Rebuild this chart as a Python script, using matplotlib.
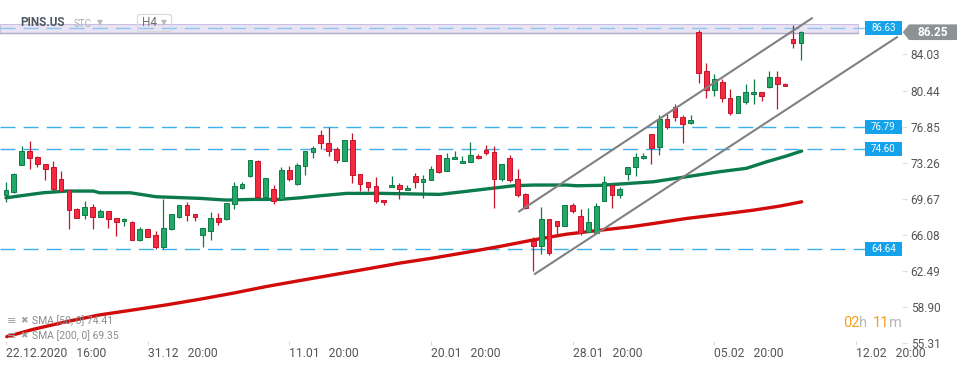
import matplotlib
matplotlib.use("Agg")
import matplotlib.pyplot as plt
import matplotlib.transforms as mtransforms
from matplotlib.patches import Rectangle, Polygon, FancyBboxPatch

W, H = 970, 368

# H4 candles, PINS.US
opens = [70.05, 70.35, 73.00, 74.39, 73.79, 73.09, 72.79, 71.59, 70.49, 68.59,
         67.99, 68.79, 67.85, 68.39, 67.69, 67.39, 67.29, 65.59, 66.59, 66.09,
         64.85, 66.59, 67.85, 68.99, 68.09, 66.00, 66.49, 67.69, 67.59, 69.09,
         70.69, 71.89, 73.39, 69.79, 70.59, 69.59, 72.49, 71.09, 72.89, 74.29,
         75.99, 75.19, 74.59, 73.39, 75.49, 72.09, 71.29, 70.89, 69.49, 70.79,
         70.99, 70.49, 71.89, 71.29, 71.49, 73.99, 72.39, 73.59, 73.19, 73.29,
         73.89, 74.49, 74.29, 71.59, 73.69, 71.59, 70.09, 65.45, 64.95, 67.59,
         67.39, 66.89, 68.99, 67.89, 66.39, 66.29, 69.39, 70.99, 69.99, 72.09,
         72.79, 73.69, 76.09, 74.79, 77.63, 78.79, 77.79, 77.16, 86.29, 82.36,
         80.53, 81.33, 79.73, 78.19, 79.26, 80.13, 80.33, 80.79, 81.83, 81.13,
         85.53, 85.19]
highs = [71.32, 72.18, 74.92, 75.42, 73.92, 73.09, 73.39, 72.42, 70.49, 68.69,
         69.42, 69.12, 68.59, 68.39, 67.69, 67.72, 67.39, 66.79, 66.59, 66.49,
         69.65, 68.10, 69.05, 69.32, 68.09, 66.69, 68.29, 68.19, 69.25, 71.29,
         71.29, 73.55, 73.49, 71.69, 70.99, 72.79, 72.89, 73.19, 74.45, 74.89,
         76.49, 76.85, 74.79, 75.49, 76.19, 72.09, 71.29, 71.79, 69.49, 71.95,
         71.19, 70.99, 72.19, 71.99, 72.89, 73.99, 74.19, 74.39, 73.89, 75.29,
         74.09, 74.99, 74.89, 73.09, 73.99, 72.59, 70.19, 65.85, 68.79, 67.59,
         67.39, 68.99, 69.19, 68.59, 68.69, 69.19, 71.89, 70.99, 70.79, 72.79,
         74.19, 74.19, 76.09, 77.96, 78.13, 79.13, 77.96, 77.96, 86.46, 83.19,
         82.06, 81.59, 80.63, 79.93, 81.06, 81.63, 80.33, 82.43, 82.36, 81.19,
         86.96, 86.39]
lows = [69.35, 70.25, 73.00, 72.65, 72.85, 71.52, 70.39, 70.42, 66.65, 67.69,
        67.59, 66.65, 67.79, 66.75, 65.95, 66.92, 65.59, 65.45, 65.89, 64.60,
        64.60, 66.50, 67.75, 67.45, 67.45, 64.85, 65.59, 66.99, 67.55, 68.59,
        70.59, 71.79, 69.69, 69.69, 69.09, 69.55, 71.39, 71.05, 71.99, 73.69,
        74.59, 73.95, 73.19, 73.39, 71.25, 70.45, 70.45, 69.19, 68.99, 70.79,
        69.59, 70.49, 70.69, 69.69, 71.49, 72.19, 72.39, 73.59, 73.19, 73.29,
        73.59, 73.99, 68.69, 71.39, 71.29, 69.79, 68.59, 62.41, 64.18, 64.05,
        65.99, 66.89, 68.19, 66.09, 66.39, 66.29, 69.39, 68.69, 69.69, 71.50,
        71.89, 73.59, 73.09, 73.99, 76.63, 77.39, 75.19, 77.10, 81.19, 79.69,
        79.86, 79.26, 77.96, 78.19, 79.13, 79.06, 79.39, 80.73, 78.63, 80.86,
        84.63, 83.53]
closes = [70.52, 72.08, 74.39, 73.69, 73.09, 72.65, 70.59, 70.42, 68.49, 67.69,
          68.79, 67.85, 68.39, 67.59, 67.35, 67.62, 65.59, 66.59, 65.89, 64.85,
          66.69, 68.09, 68.99, 67.99, 67.85, 66.69, 67.69, 67.29, 69.19, 70.89,
          71.09, 73.49, 69.79, 71.69, 69.39, 72.49, 71.59, 72.99, 74.39, 74.69,
          75.19, 74.45, 73.49, 75.49, 71.99, 71.09, 70.79, 69.39, 69.29, 70.99,
          70.59, 70.69, 71.29, 71.59, 72.59, 72.29, 73.69, 73.79, 73.39, 73.99,
          73.69, 74.19, 71.59, 73.09, 71.49, 69.99, 68.69, 64.95, 67.59, 64.25,
          66.89, 68.99, 68.39, 66.29, 67.29, 68.89, 71.29, 69.99, 70.59, 72.79,
          73.79, 73.89, 74.69, 77.63, 76.85, 77.79, 77.12, 77.46, 82.19, 80.53,
          81.59, 79.73, 78.19, 79.93, 80.33, 80.33, 79.93, 81.79, 81.13, 80.93,
          85.19, 86.25]

# moving averages (candle index, value)
sma50_x = [0, 4.7, 7.7, 11.1, 11.9, 15.8, 19.1, 21.3, 24.7, 28.0, 31.4, 34.8,
           37.4, 39.9, 43.3, 47.9, 52.6, 55.1, 57.7, 60.6, 64.5, 67.0, 71.2,
           72.5, 75.5, 79.3, 82.3, 86.5, 90.7, 94.1, 96.7, 99.2, 101.1]
sma50_y = [69.75, 70.25, 70.42, 70.42, 70.25, 70.25, 69.85, 69.79, 69.69,
           69.52, 69.59, 69.59, 69.75, 69.95, 70.19, 70.19, 70.12, 70.09,
           70.32, 70.59, 70.95, 71.02, 71.02, 70.95, 70.99, 71.19, 71.35,
           71.85, 72.35, 72.69, 73.35, 73.92, 74.41]
sma200_x = [0.1, 3.5, 7.7, 11.9, 16.2, 20.4, 24.7, 28.9, 33.1, 37.4, 41.6,
            45.8, 50.1, 54.3, 58.5, 62.8, 67.0, 71.2, 75.5, 79.3, 82.3, 86.5,
            90.7, 95.0, 98.3, 101.1]
sma200_y = [55.91, 56.65, 57.41, 58.08, 58.58, 59.08, 59.65, 60.25, 60.91,
            61.51, 62.08, 62.65, 63.25, 63.75, 64.31, 64.91, 65.55, 66.12,
            66.52, 66.85, 67.19, 67.69, 68.09, 68.52, 68.92, 69.35]

chan_upper_x = [65.2, 102.4]
chan_upper_y = [68.39, 87.64]
chan_lower_x = [67.2, 113.2]
chan_lower_y = [62.16, 85.75]

levels = [86.63, 76.79, 74.60, 64.64]
band = (86.14, 87.07)
last_price = 86.25

ytick_vals = [84.03, 80.44, 76.85, 73.26, 69.67, 66.08, 62.49, 58.90, 55.31]
xtick_pos = [0, 18, 36, 54, 72, 90, 108]
xtick_labels = ['22.12.2020   16:00', '31.12   20:00', '11.01   20:00',
                '20.01   20:00', '28.01   20:00', '05.02   20:00',
                '12.02   20:00']

plt.rcParams['font.family'] = ['Roboto', 'DejaVu Sans']

fig = plt.figure(figsize=(W / 100, H / 100), dpi=100)
ax = fig.add_axes([0, 1 - 344.6 / H, 902 / W, 344.6 / H])
ax.set_xlim(-0.76, 113.85)
ax.set_ylim(55.12, 89.46)
for s in ax.spines.values():
    s.set_visible(False)

x_end = 109.15  # where the level lines meet their labels

# resistance band + level lines
ax.add_patch(Rectangle((-0.76, band[0]), 109.0, band[1] - band[0],
                       facecolor='#e9e3f3', edgecolor='#c9bfe2', lw=0.8, zorder=1))
ax.plot([-0.76, 108.24], [band[0], band[0]], color='#b4acc8', lw=1.0, zorder=1)
for lv in levels:
    col = '#8ac6ee' if lv == levels[0] else '#3cb1ed'
    ax.plot([-0.76, x_end], [lv, lv], color=col, lw=1.0,
            linestyle=(0, (10.8, 5.8)), zorder=2)

# moving averages
ax.plot(sma200_x, sma200_y, color='#d10a0a', lw=2.4, solid_capstyle='round', zorder=3)
ax.plot(sma50_x, sma50_y, color='#0b7b4c', lw=2.4, solid_capstyle='round', zorder=3)

# candles
idx = list(range(len(opens)))
ups = [c >= o for o, c in zip(opens, closes)]
faces = ['#22a867' if u else '#f52a3f' for u in ups]
edges = ['#0f7a48' if u else '#c4142b' for u in ups]
bottoms = [min(o, c) for o, c in zip(opens, closes)]
heights = [max(abs(c - o), 0.08) for o, c in zip(opens, closes)]
ax.vlines(idx, lows, highs, colors=edges, lw=0.9, zorder=4)
ax.bar(idx, heights, bottom=bottoms, width=0.6, color=faces,
       edgecolor=edges, linewidth=0.7, zorder=5)

# trend channel
ax.plot(chan_upper_x, chan_upper_y, color='#808080', lw=1.5, zorder=6)
ax.plot(chan_lower_x, chan_lower_y, color='#808080', lw=1.5, zorder=6, clip_on=False)

# axes ticks
ax.yaxis.tick_right()
ax.set_yticks(ytick_vals)
ax.set_yticklabels([f'{v:.2f}' for v in ytick_vals])
ax.tick_params(axis='y', length=3.6, width=0.8, color='#dddddd', pad=2.7,
               labelsize=8.5, labelcolor='#555555')
ax.set_xticks(xtick_pos)
ax.set_xticklabels(xtick_labels, ha='left')
ax.tick_params(axis='x', direction='in', length=3, width=0.8, color='#dddddd',
               pad=1.5, labelsize=8.7, labelcolor='#555555')

# level labels on the right
blend = mtransforms.blended_transform_factory(fig.transFigure, ax.transData)
for lv in levels:
    ax.add_patch(Rectangle((865 / W, lv - 0.7), 37 / W, 1.4, transform=blend,
                           facecolor='#14a3ea', edgecolor='none',
                           clip_on=False, zorder=7))
    ax.text(883.5 / W, lv, f'{lv:.2f}', transform=blend, ha='center',
            va='center', color='white', fontsize=7, zorder=8, clip_on=False)

# last price tag
ax.add_patch(Polygon([(902.7 / W, last_price), (909 / W, last_price + 0.78),
                      (957 / W, last_price + 0.78), (957 / W, last_price - 0.78),
                      (909 / W, last_price - 0.78)], closed=True,
                     transform=blend, facecolor='#8c9396', edgecolor='none',
                     clip_on=False, zorder=7))
ax.text(933 / W, last_price, f'{last_price:.2f}', transform=blend, ha='center',
        va='center', color='white', fontsize=8.5, fontweight='bold',
        zorder=8, clip_on=False)


def fp(x, y):
    return x / W, 1 - y / H


# header
fig.text(*fp(20.7, 22.5), 'PINS.US', fontsize=8.5, fontweight='bold',
         color='#4e5860', va='center')
fig.text(*fp(74, 24), 'STC', fontsize=7, color='#a8b0b8', va='center')
fig.text(*fp(97, 22.5), '▼', fontsize=5.5, color='#bbbbbb', va='center')
fig.patches.append(FancyBboxPatch(fp(137.5, 31.5), 34 / W, 17 / H,
                                  boxstyle='round,pad=0,rounding_size=0.004',
                                  transform=fig.transFigure, facecolor='none',
                                  edgecolor='#d8d8d8', lw=0.8))
fig.text(*fp(142, 23), 'H4', fontsize=8.5, color='#707070', va='center')
fig.text(*fp(161, 22.5), '▼', fontsize=5.5, color='#bbbbbb', va='center')

# indicator legend
for yy, txt in [(321, 'SMA [50, 0] 74.41'), (336, 'SMA [200, 0] 69.35')]:
    fig.text(*fp(6.5, yy), '≡', fontsize=8, color='#a0a0a0', va='center',
             family='DejaVu Sans')
    fig.text(*fp(20, yy), '✖', fontsize=6.5, color='#a0a0a0', va='center',
             family='DejaVu Sans')
    fig.text(*fp(32.3, yy), txt, fontsize=7.5, color='#8c8c8c', va='center')

# candle timer
for xx, txt, col in [(843.5, '02', '#f5a01e'), (859.5, 'h', '#b8b8b8'),
                     (873, '11', '#f5a01e'), (889, 'm', '#b8b8b8')]:
    fig.text(*fp(xx, 323), txt, fontsize=10.5, color=col, va='center')

fig.savefig('out.png', dpi=100)
